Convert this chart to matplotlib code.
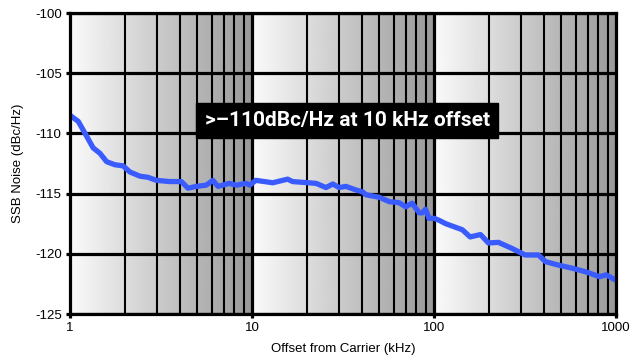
import numpy as np
import matplotlib
matplotlib.use('Agg')
import matplotlib.pyplot as plt

## Datos (offset en kHz, ruido en dBc/Hz)
freq = [1.0, 1.11, 1.21, 1.34, 1.46, 1.59, 1.76, 1.96, 2.13, 2.42, 2.69, 2.98,
        3.53, 4.09, 4.45, 4.95, 5.6, 6.1, 6.5, 7.5, 8.2, 9.3, 9.7, 10.5, 13.0,
        15.7, 16.7, 22.5, 25.5, 27.8, 30.1, 32.8, 37.3, 40.5, 42.3, 49.9, 56.9,
        64.2, 69.9, 75.8, 83.0, 86.2, 89.9, 93.8, 100, 106, 116, 143, 158, 180,
        199, 226, 268, 317, 375, 410, 486, 576, 683, 810, 883, 1000]
ruido = [-108.5, -109.0, -110.0, -111.2, -111.65, -112.35, -112.6, -112.7, -113.2,
         -113.55, -113.65, -113.9, -114.0, -114.0, -114.55, -114.4, -114.3, -113.9,
         -114.4, -114.15, -114.3, -114.15, -114.3, -113.9, -114.1, -113.8, -114.0,
         -114.15, -114.5, -114.2, -114.5, -114.4, -114.7, -114.85, -115.1, -115.3,
         -115.67, -115.75, -116.1, -115.8, -116.6, -116.6, -116.3, -117.05, -117.05,
         -117.2, -117.5, -118.0, -118.6, -118.4, -119.1, -119.05, -119.55, -120.1,
         -120.1, -120.65, -120.95, -121.2, -121.5, -121.9, -121.75, -122.2]

yticks = [-125, -120, -115, -110, -105, -100]
xticks = [1, 10, 100, 1000]
texto = '>\u2013110dBc/Hz at 10 kHz offset'

plt.rcParams['font.family'] = ['Liberation Sans', 'DejaVu Sans']

fig = plt.figure(figsize=(6.39, 3.6), dpi=100)
ax = fig.add_axes([70 / 639, 46 / 360, 546 / 639, 301 / 360])

# Fondo degradado por decada (blanco a gris)
t = np.linspace(0, 1, 200)
decada = 0.98 - 0.38 * t
fondo = np.tile(decada, 3)
ax.imshow(np.tile(fondo, (2, 1)), cmap='gray', vmin=0, vmax=1, aspect='auto',
          extent=[0, 1, 0, 1], transform=ax.transAxes, zorder=0, interpolation='bilinear')

ax.set_xscale('log')
ax.set_xlim(1, 1000)
ax.set_ylim(-125, -100)

# Rejilla
for d in [1, 10, 100]:
    for k in range(2, 10):
        ax.axvline(d * k, color='black', lw=1.5, zorder=1)
for d in [10, 100]:
    ax.axvline(d, color='black', lw=2.3, zorder=1)
for y in yticks:
    ax.axhline(y, color='black', lw=2.3, zorder=1)

ax.plot(freq, ruido, color='#3a5cff', lw=3.8, solid_capstyle='round',
        solid_joinstyle='round', zorder=3)

for s in ax.spines.values():
    s.set_linewidth(2.3)
    s.set_zorder(4)

ax.set_xticks(xticks)
ax.set_xticklabels(['1', '10', '100', '1000'])
ax.xaxis.set_minor_locator(matplotlib.ticker.NullLocator())
ax.set_yticks(yticks)
ax.set_yticklabels(['-125', '-120', '-115', '-110', '-105', '-100'])
ax.tick_params(axis='both', length=3, width=2.3, labelsize=9.5, pad=3, color='black')

ax.set_xlabel('Offset from Carrier (kHz)', fontsize=9.5, labelpad=6)
ax.set_ylabel('SSB Noise (dBc/Hz)', fontsize=9.5, labelpad=8)

ax.text(0.508, 0.643, texto, transform=ax.transAxes, ha='center', va='center',
        color='white', fontsize=15, fontweight='bold', family=['Roboto', 'DejaVu Sans'],
        zorder=5,
        bbox=dict(boxstyle='square,pad=0.4', facecolor='black', edgecolor='black'))

fig.savefig('out.png', dpi=100)
